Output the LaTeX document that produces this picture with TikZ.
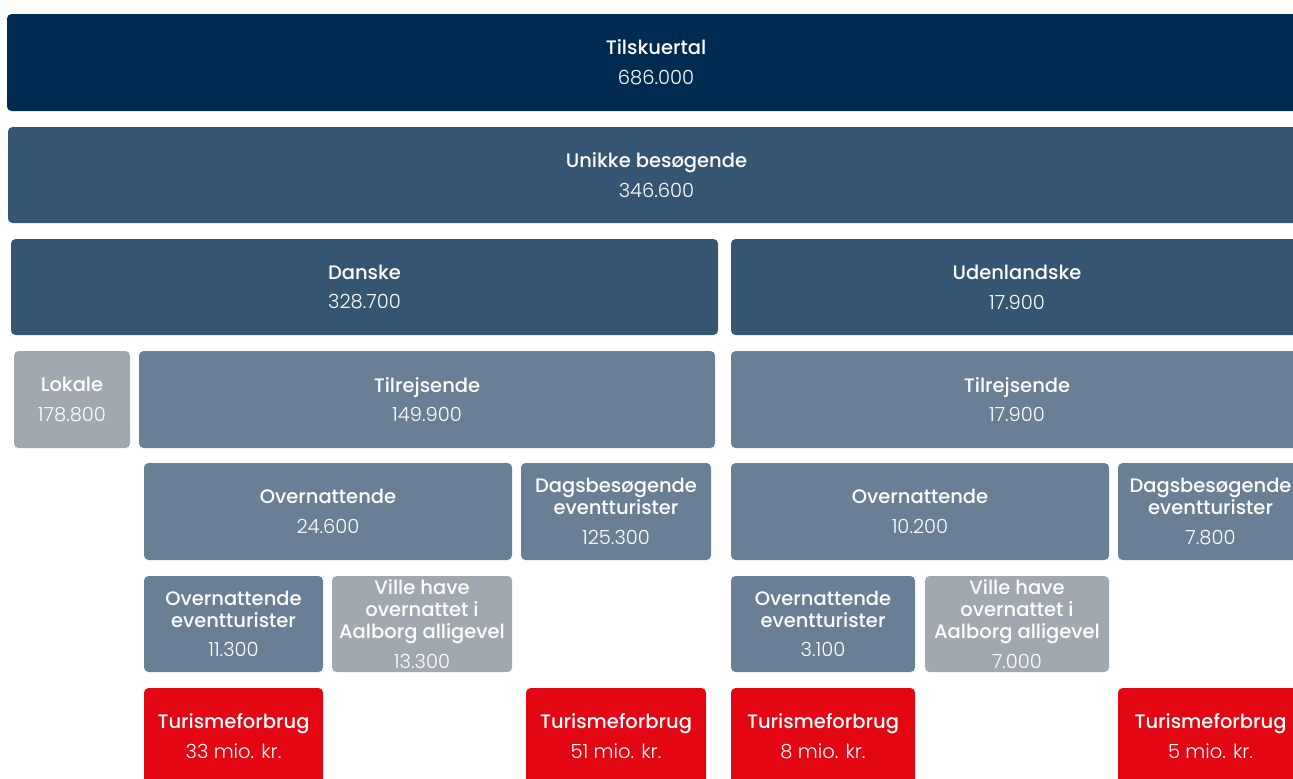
\documentclass[tikz,border=0pt]{standalone}
\usepackage{fontspec}
\setmainfont{Poppins}[UprightFont={Poppins Light}, BoldFont={Poppins Medium}]

\definecolor{navy}{HTML}{002B50}
\definecolor{steel}{HTML}{355673}
\definecolor{slate}{HTML}{687F96}
\definecolor{ash}{HTML}{A1A8AF}
\definecolor{signal}{HTML}{E30613}

\begin{document}
\begin{tikzpicture}[x=0.02cm, y=-0.02cm,
    box/.style={rounded corners=2.6pt},
    lbl/.style={text=white, align=center, inner sep=0pt,
        font=\fontsize{11.1}{12.4}\selectfont},
    ]
    \useasboundingbox (0,0) rectangle (1293,778);
    \clip (0,0) rectangle (1293,778);

    % Top rows
    \fill[box, navy] (7,14) rectangle (1305,111)
        node[lbl, midway] (tilskuere) {\textbf{Tilskuertal}\\[4.5pt]686.000};
    \fill[box, steel] (8,127) rectangle (1305,223)
        node[lbl, midway] (unikke) {\textbf{Unikke besøgende}\\[4.5pt]346.600};

    % Danske / Udenlandske
    \fill[box, steel] (11,239) rectangle (718,335)
        node[lbl, midway] (danske) {\textbf{Danske}\\[4.5pt]328.700};
    \fill[box, steel] (731,239) rectangle (1303,335)
        node[lbl, midway] (udenl) {\textbf{Udenlandske}\\[4.5pt]17.900};

    % Lokale and tilrejsende
    \fill[box, ash] (14,351) rectangle (130,448)
        node[lbl, midway] (lokale) {\textbf{Lokale}\\[4.5pt]178.800};
    \fill[box, slate] (139,351) rectangle (715,448)
        node[lbl, midway] (tilrejsDK) {\textbf{Tilrejsende}\\[4.5pt]149.900};
    \fill[box, slate] (731,351) rectangle (1303,448)
        node[lbl, midway] (tilrejsUD) {\textbf{Tilrejsende}\\[4.5pt]17.900};

    % Overnattende / dagsbesoegende
    \fill[box, slate] (144,463) rectangle (512,560)
        node[lbl, midway] (overnDK) {\textbf{Overnattende}\\[4.5pt]24.600};
    \fill[box, slate] (521,463) rectangle (711,560)
        node[lbl, midway] (dagsDK) {\textbf{Dagsbesøgende}\\\textbf{eventturister}\\[4.5pt]125.300};
    \fill[box, slate] (731,463) rectangle (1109,560)
        node[lbl, midway] (overnUD) {\textbf{Overnattende}\\[4.5pt]10.200};
    \fill[box, slate] (1118,463) rectangle (1303,560)
        node[lbl, midway] (dagsUD) {\textbf{Dagsbesøgende}\\\textbf{eventturister}\\[4.5pt]7.800};

    % Eventturister
    \fill[box, slate] (144,576) rectangle (323,672)
        node[lbl, midway] (eventDK) {\textbf{Overnattende}\\\textbf{eventturister}\\[4.5pt]11.300};
    \fill[box, ash] (332,576) rectangle (512,672)
        node[lbl, midway] (villeDK) {\textbf{Ville have}\\\textbf{overnattet i}\\\textbf{Aalborg alligevel}\\[4.5pt]13.300};
    \fill[box, slate] (731,576) rectangle (915,672)
        node[lbl, midway] (eventUD) {\textbf{Overnattende}\\\textbf{eventturister}\\[4.5pt]3.100};
    \fill[box, ash] (925,576) rectangle (1109,672)
        node[lbl, midway] (villeUD) {\textbf{Ville have}\\\textbf{overnattet i}\\\textbf{Aalborg alligevel}\\[4.5pt]7.000};

    % Turismeforbrug
    \fill[box, signal] (144,688) rectangle (323,784)
        node[lbl, midway] (forbrugA) {\textbf{Turismeforbrug}\\[4.5pt]33 mio. kr.};
    \fill[box, signal] (526,688) rectangle (706,784)
        node[lbl, midway] (forbrugB) {\textbf{Turismeforbrug}\\[4.5pt]51 mio. kr.};
    \fill[box, signal] (731,688) rectangle (915,784)
        node[lbl, midway] (forbrugC) {\textbf{Turismeforbrug}\\[4.5pt]8 mio. kr.};
    \fill[box, signal] (1118,688) rectangle (1303,784)
        node[lbl, midway] (forbrugD) {\textbf{Turismeforbrug}\\[4.5pt]5 mio. kr.};
\end{tikzpicture}
\end{document}
